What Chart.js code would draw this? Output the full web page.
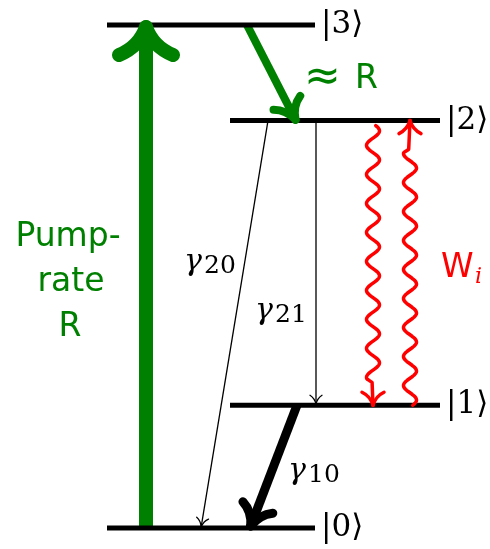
<!DOCTYPE html>
<html>
<head>
<meta charset="utf-8">
<script src="https://cdn.jsdelivr.net/npm/chart.js@4.4.0/dist/chart.umd.min.js"></script>
<style>
  body { margin: 0; background: #fff; }
  #c { display: block; }
</style>
</head>
<body>
<canvas id="c" width="490" height="549"></canvas>
<script>
// energy levels (arbitrary energy units, |0> = 0)
const levelNames = ['|0⟩', '|1⟩', '|2⟩', '|3⟩'];
const levelEnergy = [0, 1.22, 4.05, 5.0];
const levelFrom = [107, 230, 230, 107];
const levelTo = [315, 440, 440, 315];

// transitions: [x start, level start, x end, level end]
const pumpR = [146, 0, 146, 3];
const decay32 = [247, 3, 296, 2];
const gamma20 = [268, 2, 201, 0];
const gamma21 = [316, 2, 316, 1];
const gamma10 = [297, 1, 250, 0];
const stimDown = [373, 2, 373, 1];
const stimUp = [410, 1, 410, 2];

const green = '#008000';
const red = '#ff0000';

function pts(t) {
  return [{ x: t[0], y: levelEnergy[t[1]] }, { x: t[2], y: levelEnergy[t[3]] }];
}

const datasets = [];
levelEnergy.forEach(function (e, i) {
  datasets.push({
    label: levelNames[i],
    data: [{ x: levelFrom[i], y: e }, { x: levelTo[i], y: e }],
    borderColor: '#000', borderWidth: 5, borderCapStyle: 'butt',
    showLine: true, pointRadius: 0
  });
});

function arrow(label, t, color, width, head, wavy) {
  datasets.push({
    label: label, data: pts(t),
    borderColor: color, borderWidth: wavy ? 0 : width, borderCapStyle: 'butt',
    showLine: !wavy, pointRadius: 0,
    head: head, wavy: wavy, lw: width, col: color
  });
}
arrow('Pump-rate R', pumpR, green, 14, { L: 28, W: 27, trim: 2 });
arrow('≈ R', decay32, green, 8, { L: 19, W: 15, trim: 1 });
arrow('γ20', gamma20, '#000', 1.3, { L: 9, W: 6, trim: 1 });
arrow('γ21', gamma21, '#000', 1.3, { L: 9, W: 6, trim: 1 });
arrow('γ10', gamma10, '#000', 9, { L: 20, W: 16, trim: 2 });
arrow('W down', stimDown, red, 3.5, { L: 13, W: 11, trim: 0, skip: 5, sign: -1, straight: 22 }, true);
arrow('W up', stimUp, red, 3.5, { L: 13, W: 11, trim: 0, skip: 0, sign: 1, straight: 28 }, true);

const diagramPlugin = {
  id: 'diagram',
  afterDatasetsDraw(chart) {
    const ctx = chart.ctx;
    const xs = chart.scales.x, ys = chart.scales.y;
    chart.data.datasets.forEach(function (ds) {
      if (!ds.head) return;
      const a = { x: xs.getPixelForValue(ds.data[0].x), y: ys.getPixelForValue(ds.data[0].y) };
      const b = { x: xs.getPixelForValue(ds.data[1].x), y: ys.getPixelForValue(ds.data[1].y) };
      const len = Math.hypot(b.x - a.x, b.y - a.y);
      const d = { x: (b.x - a.x) / len, y: (b.y - a.y) / len };
      const n = { x: -d.y, y: d.x };
      const h = ds.head;
      ctx.save();
      ctx.strokeStyle = ds.col;
      ctx.lineWidth = ds.lw;
      ctx.lineCap = 'round';
      ctx.lineJoin = 'round';
      if (ds.wavy) {
        // snake, then a straight piece into the head
        const amp = 6.5, wl = 29, s0 = h.skip;
        const waveLen = len - s0 - h.straight;
        ctx.beginPath();
        for (let s = 0; s <= waveLen; s += 1) {
          const off = h.sign * amp * Math.sin(2 * Math.PI * (s + 2) / wl) * Math.min(1, (waveLen - s) / 5 + 0.2);
          const p = s0 + s;
          const px = a.x + d.x * p + n.x * off, py = a.y + d.y * p + n.y * off;
          if (s === 0) ctx.moveTo(px, py); else ctx.lineTo(px, py);
        }
        ctx.lineTo(b.x, b.y);
        ctx.stroke();
      }
      // curved barbs
      const tip = { x: b.x - d.x * h.trim, y: b.y - d.y * h.trim };
      [1, -1].forEach(function (sg) {
        ctx.beginPath();
        ctx.moveTo(tip.x, tip.y);
        ctx.quadraticCurveTo(
          tip.x - d.x * h.L * 0.7 + n.x * h.W * 0.25 * sg,
          tip.y - d.y * h.L * 0.7 + n.y * h.W * 0.25 * sg,
          tip.x - d.x * h.L + n.x * h.W * sg,
          tip.y - d.y * h.L + n.y * h.W * sg);
        ctx.stroke();
      });
      ctx.restore();
    });

    // text labels
    ctx.save();
    ctx.textBaseline = 'middle';
    ctx.fillStyle = '#000';
    ctx.font = '31px "DejaVu Serif"';
    levelEnergy.forEach(function (e, i) {
      ctx.textAlign = 'left';
      ctx.fillText(levelNames[i], levelTo[i] + 6, ys.getPixelForValue(e));
    });
    ctx.textBaseline = 'alphabetic';
    function gam(sub, x, y) {
      ctx.fillStyle = '#000';
      ctx.textAlign = 'left';
      ctx.font = 'italic 30px "DejaVu Serif"';
      ctx.fillText('γ', x, y - 3);
      ctx.font = '25px "DejaVu Serif"';
      ctx.fillText(sub, x + 20, y);
    }
    gam('20', 184, 273);
    gam('21', 255, 322);
    gam('10', 288, 482);

    ctx.fillStyle = green;
    ctx.font = '33px "DejaVu Sans"';
    ctx.textAlign = 'center';
    ctx.fillText('Pump-', 68, 246);
    ctx.fillText('rate', 71, 291);
    ctx.fillText('R', 70, 336);
    ctx.textAlign = 'left';
    ctx.fillText('R', 355, 88);
    ctx.font = '44px "DejaVu Sans"';
    ctx.fillText('≈', 304, 90);

    ctx.fillStyle = red;
    ctx.font = '33px "DejaVu Sans"';
    ctx.fillText('W', 441, 277);
    ctx.font = 'italic 22px "DejaVu Serif"';
    ctx.fillText('i', 475, 283);
    ctx.restore();
  }
};

new Chart(document.getElementById('c'), {
  type: 'scatter',
  data: { datasets: datasets },
  options: {
    responsive: false,
    animation: false,
    layout: { padding: 0 },
    plugins: { legend: { display: false }, tooltip: { enabled: false } },
    scales: {
      x: { type: 'linear', min: 0, max: 490, display: false },
      y: { type: 'linear', min: -0.209, max: 5.249, display: false }
    }
  },
  plugins: [diagramPlugin]
});
</script>
</body>
</html>
